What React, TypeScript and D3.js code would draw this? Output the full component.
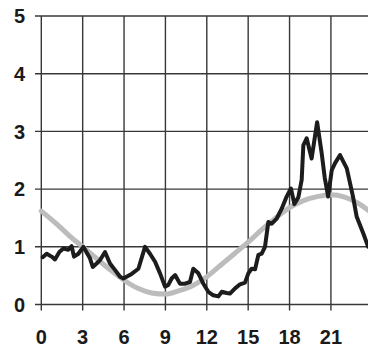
import React from "react";
import * as d3 from "d3";

// Hour of day for the smooth reference curve and its values
const refHours = [0, 1, 2, 3, 4, 5, 6, 7, 8, 9, 10, 11, 12, 13, 14, 15, 16, 17, 18, 19, 20, 21, 22, 23, 24];
const refValues = [1.62, 1.42, 1.2, 1.0, 0.8, 0.6, 0.42, 0.28, 0.2, 0.18, 0.24, 0.33, 0.48, 0.68, 0.88, 1.08, 1.3, 1.5, 1.68, 1.8, 1.87, 1.9, 1.86, 1.75, 1.58];

// Measured series: hour of day and value
const obsHours = [
  0.1, 0.39, 0.75, 0.99, 1.31, 1.6, 1.96, 2.2, 2.37, 2.69, 3.05, 3.34, 3.53, 3.73, 4.01, 4.26, 4.62,
  4.98, 5.34, 5.71, 5.95, 6.55, 7.04, 7.52, 7.88, 8.25, 8.61, 8.97, 9.21, 9.45, 9.7, 10.06, 10.42,
  10.78, 11.02, 11.39, 11.75, 12.11, 12.47, 12.84, 13.08, 13.44, 13.68, 14.05, 14.41, 14.77, 15.01,
  15.25, 15.5, 15.74, 15.98, 16.22, 16.46, 16.71, 17.07, 17.43, 17.79, 18.1, 18.35, 18.64, 18.88,
  19.0, 19.24, 19.6, 20.0, 20.33, 20.55, 20.8, 21.06, 21.3, 21.66, 22.15, 22.6, 22.87, 23.35, 23.7,
];
const obsValues = [
  0.82, 0.88, 0.83, 0.78, 0.91, 0.97, 0.95, 1.01, 0.83, 0.88, 1.0, 0.88, 0.8, 0.65, 0.71, 0.77, 0.91,
  0.71, 0.6, 0.48, 0.45, 0.53, 0.62, 1.0, 0.88, 0.74, 0.54, 0.31, 0.34, 0.45, 0.51, 0.36, 0.36,
  0.39, 0.62, 0.54, 0.36, 0.22, 0.16, 0.14, 0.22, 0.2, 0.19, 0.28, 0.35, 0.38, 0.54,
  0.62, 0.61, 0.86, 0.88, 1.0, 1.43, 1.4, 1.49, 1.66, 1.87, 2.01, 1.74, 1.86, 2.16,
  2.76, 2.88, 2.53, 3.16, 2.62, 2.2, 1.87, 2.33, 2.45, 2.59, 2.36, 1.87, 1.52, 1.23, 1.0,
];

const xTicks = [0, 3, 6, 9, 12, 15, 18, 21];
const yTicks = [0, 1, 2, 3, 4, 5];

const W = 368;
const H = 352;

export default function App() {
  const x = d3.scaleLinear().domain([0, 24]).range([41.3, 372.3]);
  const y = d3.scaleLinear().domain([0, 5]).range([304.5, 16]);

  const refLine = d3
    .line<number>()
    .x((_, i) => x(refHours[i]))
    .y((d) => y(d))
    .curve(d3.curveMonotoneX);

  const obsLine = d3
    .line<number>()
    .x((_, i) => x(obsHours[i]))
    .y((d) => y(d))
    .curve(d3.curveLinear);

  const gridColor = "#383838";
  const font = "'Liberation Sans', Arial, sans-serif";

  return (
    <div style={{ position: "absolute", left: 0, top: 0 }}>
      <svg width={W} height={H} style={{ display: "block", background: "#fff" }}>
        {/* horizontal grid lines and y ticks */}
        {yTicks.map((t) => (
          <line
            key={`h${t}`}
            x1={35}
            x2={W}
            y1={y(t)}
            y2={y(t)}
            stroke={gridColor}
            strokeWidth={1.4}
          />
        ))}

        {/* vertical grid lines and x ticks */}
        {xTicks.map((t) => (
          <line
            key={`v${t}`}
            x1={x(t)}
            x2={x(t)}
            y1={y(5)}
            y2={y(0) + 6}
            stroke={gridColor}
            strokeWidth={1.4}
          />
        ))}

        <path
          d={refLine(refValues) ?? ""}
          fill="none"
          stroke="#bcbcbc"
          strokeWidth={5}
          strokeLinecap="round"
          strokeLinejoin="round"
        />
        <path
          d={obsLine(obsValues) ?? ""}
          fill="none"
          stroke="#1c1c1c"
          strokeWidth={4}
          strokeLinecap="round"
          strokeLinejoin="round"
        />

        {/* y-axis labels */}
        {yTicks.map((t) => (
          <text
            key={`yl${t}`}
            x={25}
            y={y(t)}
            dy="0.36em"
            textAnchor="end"
            fontFamily={font}
            fontWeight="bold"
            fontSize={20}
            fill="#1a1a1a"
          >
            {t}
          </text>
        ))}

        {/* x-axis labels */}
        {xTicks.map((t) => (
          <text
            key={`xl${t}`}
            x={x(t)}
            y={344}
            textAnchor="middle"
            fontFamily={font}
            fontWeight="bold"
            fontSize={20}
            fill="#1a1a1a"
          >
            {t}
          </text>
        ))}
      </svg>
    </div>
  );
}
